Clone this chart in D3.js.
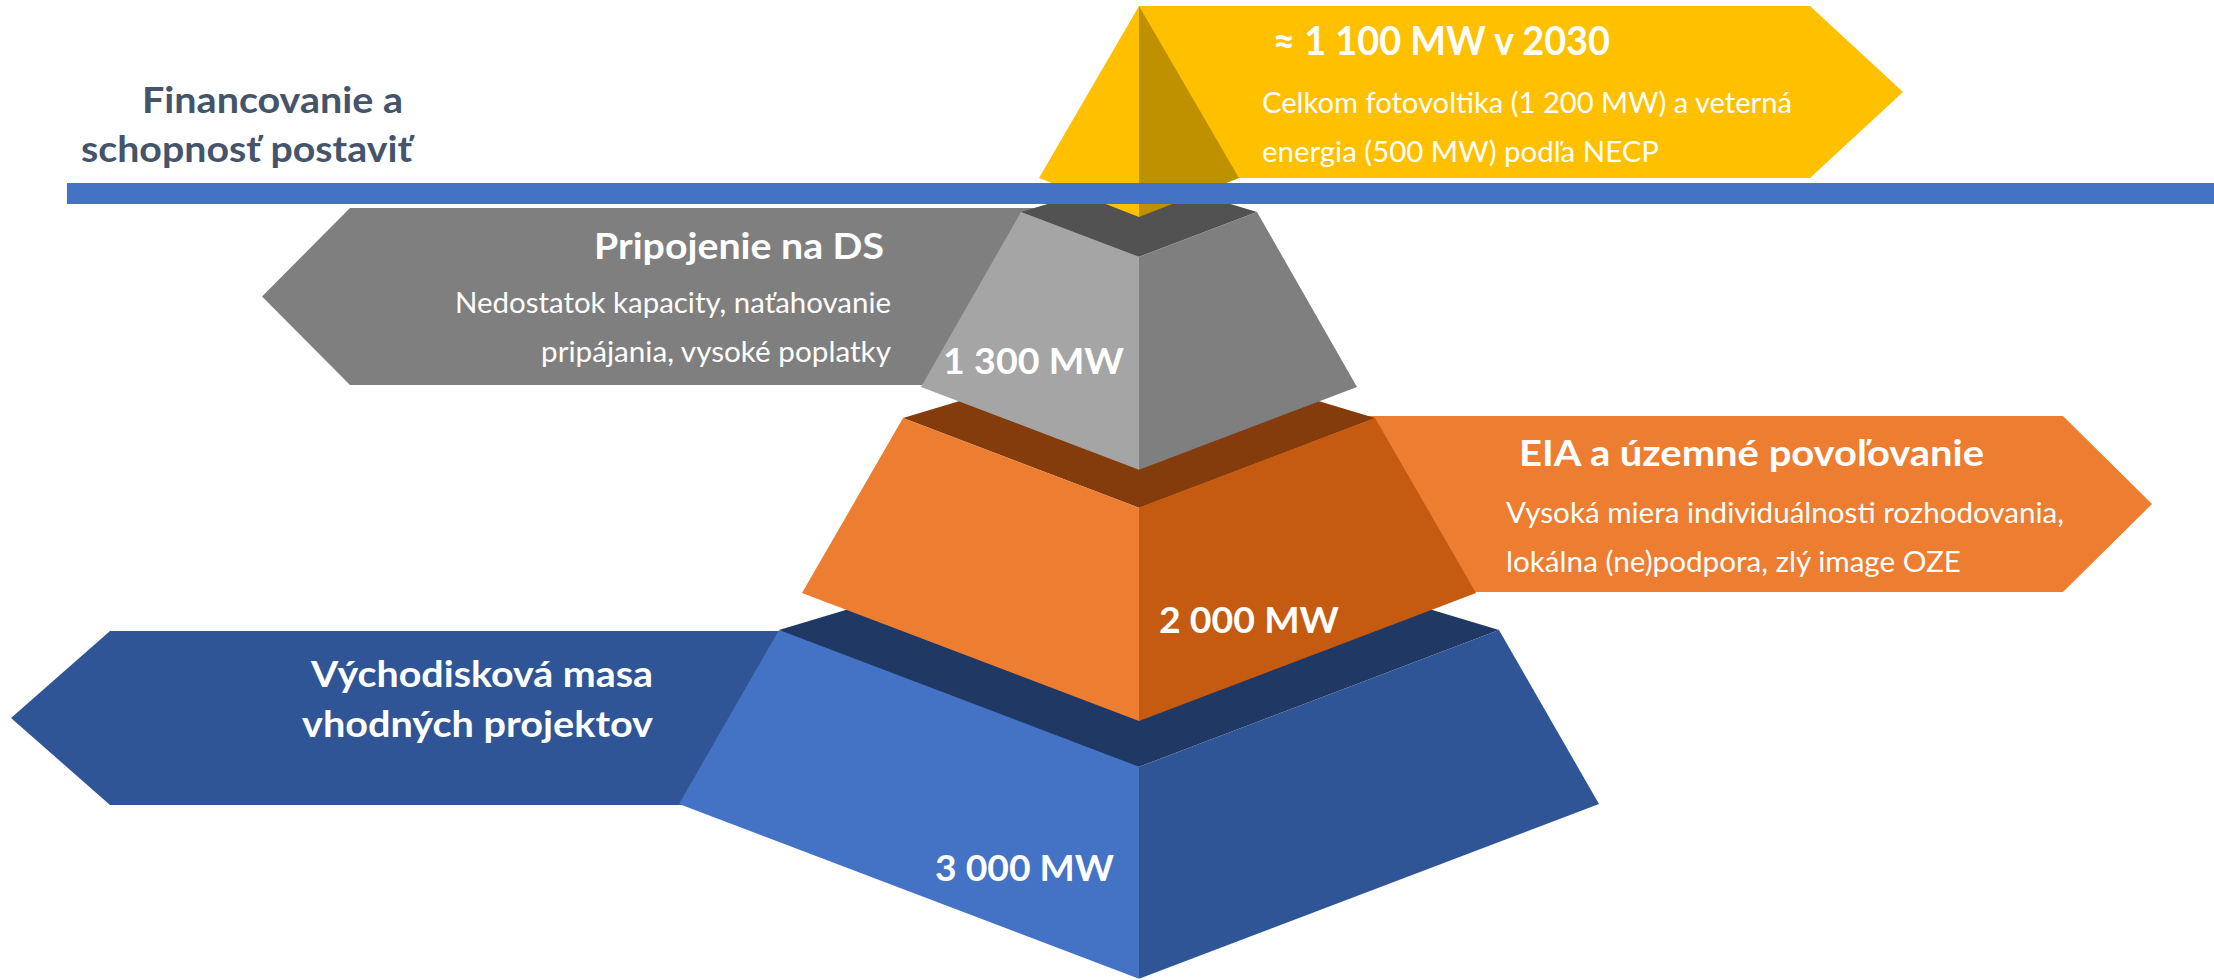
<!DOCTYPE html>
<html>
<head>
<meta charset="utf-8">
<script src="https://cdn.jsdelivr.net/npm/d3@7"></script>
<style>
  body { margin: 0; background: #fff; }
  text { font-family: Lato, 'Open Sans', sans-serif; fill: #fff; }
</style>
</head>
<body>
<svg id="chart"></svg>
<script>
// tiers from the bottom of the pyramid to its top
const stages = ['base', 'eia', 'grid', 'target'];
const capacityMW = [3000, 2000, 1300, 1100];
const bannerTitles = [
    ['Východisková masa', 'vhodných projektov'],
    ['EIA a územné povoľovanie'],
    ['Pripojenie na DS'],
    null // built from the value
];
const bannerNotes = [
    [],
    ['Vysoká miera individuálnosti rozhodovania,', 'lokálna (ne)podpora, zlý image OZE'],
    ['Nedostatok kapacity, naťahovanie', 'pripájania, vysoké poplatky'],
    ['Celkom fotovoltika (1 200 MW) a veterná', 'energia (500 MW) podľa NECP']
];
const barrierLabel = ['Financovanie a', 'schopnosť postaviť'];
const targetYear = 2030;

const width = 2214;
const height = 980;
const cx = 1139;
const k = 0.38; // depth slope of the front edges

const colors = {
    base:   {left: '#4472C4', right: '#2F5597', top: '#203864', banner: '#2F5597'},
    eia:    {left: '#ED7D31', right: '#C55A11', top: '#843C0C', banner: '#ED7D31'},
    grid:   {left: '#A5A5A5', right: '#7F7F7F', top: '#525252', banner: '#7F7F7F'},
    target: {left: '#FFC000', right: '#BF9000', banner: '#FFC000'}
};

// frustum geometry (top y, bottom y, half widths)
const geom = {
    base: {top: 630, bot: 804, th: 360, bh: 460},
    eia:  {top: 418, bot: 593, th: 236, bh: 337},
    grid: {top: 212, bot: 387, th: 118, bh: 218},
    target: {apex: 6, bot: 178, bh: 100}
};

const banners = {
    base:   {top: 631, bot: 805, body: 110,  tip: 11},
    eia:    {top: 416, bot: 592, body: 2063, tip: 2152},
    grid:   {top: 208, bot: 385, body: 350,  tip: 262},
    target: {top: 6,   bot: 178, body: 1810, tip: 1903}
};

const textPos = {
    base:   {anchor: 'end', x: 653, titleY: [687, 737], titleW: [342, 351], titleSize: 36,
             notesX: 0, notesY: [], notesW: [], valX: 935, valY: 881, valW: 179},
    eia:    {anchor: 'start', x: 1519, titleY: [466], titleW: [465], titleSize: 36,
             notesX: 1506, notesY: [523, 572], notesW: [558, 455], valX: 1159, valY: 633, valW: 180},
    grid:   {anchor: 'end', x: 884, titleY: [259], titleW: [290], titleSize: 36,
             notesX: 891, notesY: [313, 362], notesW: [436, 350], valX: 943, valY: 374, valW: 181},
    target: {anchor: 'start', x: 1273, titleY: [55], titleW: [337], titleSize: 40,
             notesX: 1262, notesY: [113, 162], notesW: [530, 397]}
};

const mwLocale = d3.formatLocale({decimal: ',', thousands: '\u00a0', grouping: [3], currency: ['', '']});
const fmt = mwLocale.format(',');

const svg = d3.select('#chart')
    .attr('width', width)
    .attr('height', height);

const line = d3.line().curve(d3.curveLinearClosed);

function bannerPoints(b) {
    const mid = (b.top + b.bot) / 2;
    return [[cx, b.top], [b.body, b.top], [b.tip, mid], [b.body, b.bot], [cx, b.bot]];
}

stages.forEach(function(s, i) {
    const g = svg.append('g').attr('class', 'stage ' + s);
    const c = colors[s];
    const geo = geom[s];

    g.append('path')
        .attr('d', line(bannerPoints(banners[s])))
        .attr('fill', c.banner);

    if (s === 'target') {
        const front = geo.bot + k * geo.bh + 1;
        g.append('path')
            .attr('d', line([[cx, geo.apex], [cx - geo.bh, geo.bot], [cx, front]]))
            .attr('fill', c.left);
        g.append('path')
            .attr('d', line([[cx, geo.apex], [cx + geo.bh, geo.bot], [cx, front]]))
            .attr('fill', c.right);
        return;
    }

    const topFront = geo.top + k * geo.th;
    const topBack = geo.top - 0.3 * geo.th;
    const botFront = geo.bot + k * geo.bh;

    g.append('path')
        .attr('d', line([[cx - geo.th, geo.top], [cx, topBack], [cx + geo.th, geo.top], [cx, topFront]]))
        .attr('fill', c.top);
    g.append('path')
        .attr('d', line([[cx - geo.th, geo.top], [cx, topFront], [cx, botFront], [cx - geo.bh, geo.bot]]))
        .attr('fill', c.left);
    g.append('path')
        .attr('d', line([[cx + geo.th, geo.top], [cx, topFront], [cx, botFront], [cx + geo.bh, geo.bot]]))
        .attr('fill', c.right);
});

// the barrier line
svg.append('rect')
    .attr('x', 67)
    .attr('y', 183)
    .attr('width', width - 67)
    .attr('height', 21)
    .attr('fill', '#4472C4');

svg.append('g')
    .selectAll('text')
    .data(barrierLabel)
    .enter().append('text')
    .attr('x', function(d, i) { return [142, 81][i]; })
    .attr('y', function(d, i) { return [113, 162][i]; })
    .attr('textLength', function(d, i) { return [261, 331][i]; })
    .attr('lengthAdjust', 'spacingAndGlyphs')
    .style('font-size', '36px')
    .style('font-weight', 700)
    .style('fill', '#44546A')
    .text(function(d) { return d; });

// labels
stages.forEach(function(s, i) {
    const t = textPos[s];
    const titles = bannerTitles[i] || ['\u2248 ' + fmt(capacityMW[i]) + ' MW v ' + targetYear];
    const g = svg.append('g').attr('class', 'labels ' + s);

    titles.forEach(function(txt, j) {
        g.append('text')
            .attr('x', t.x)
            .attr('y', t.titleY[j])
            .attr('text-anchor', t.anchor)
            .attr('textLength', t.titleW[j])
            .attr('lengthAdjust', 'spacingAndGlyphs')
            .style('font-size', t.titleSize + 'px')
            .style('font-weight', 700)
            .text(txt);
    });

    bannerNotes[i].forEach(function(txt, j) {
        g.append('text')
            .attr('x', t.notesX)
            .attr('y', t.notesY[j])
            .attr('text-anchor', t.anchor)
            .attr('textLength', t.notesW[j])
            .attr('lengthAdjust', 'spacingAndGlyphs')
            .style('font-size', '28px')
            .text(txt);
    });

    if (t.valX) {
        g.append('text')
            .attr('x', t.valX)
            .attr('y', t.valY)
            .attr('textLength', t.valW)
            .attr('lengthAdjust', 'spacingAndGlyphs')
            .style('font-size', '37px')
            .style('font-weight', 700)
            .text(fmt(capacityMW[i]) + ' MW');
    }
});
</script>
</body>
</html>
